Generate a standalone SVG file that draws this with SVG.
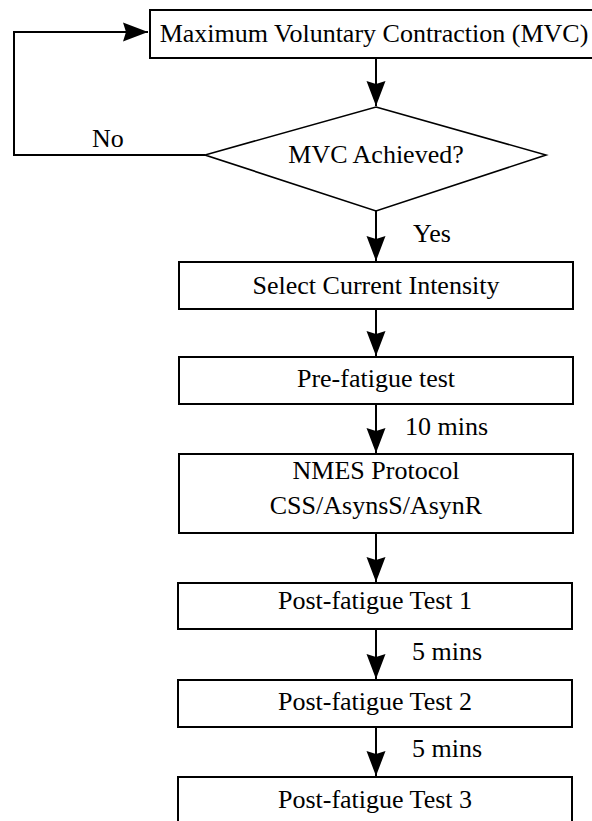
<svg xmlns="http://www.w3.org/2000/svg" width="592" height="821" viewBox="0 0 592 821">
  <style>
    .box { fill: #ffffff; stroke: #000000; stroke-width: 2; }
    .dia { fill: #ffffff; stroke: #000000; stroke-width: 1.6; }
    text { font-family: 'Liberation Serif', 'Times New Roman', Times, serif; font-size: 26px; fill: #000000; }
    .mid { text-anchor: middle; }
    .edge { fill: none; stroke: #000000; stroke-width: 2; }
  </style>
  <defs>
    <marker id="arrow" markerUnits="userSpaceOnUse" markerWidth="30" markerHeight="24" refX="25" refY="10" orient="auto">
      <path d="M0,0.5 L25,10 L0,19.5 L3,10 Z" fill="#000000"/>
    </marker>
  </defs>

  <rect width="592" height="821" fill="#ffffff"/>

  <!-- connectors -->
  <g id="connectors">
    <path class="edge" d="M205,155 L14,155 L14,32 L148,32" marker-end="url(#arrow)"/>
    <line class="edge" x1="376" y1="58" x2="376" y2="106" marker-end="url(#arrow)"/>
    <line class="edge" x1="376" y1="211" x2="376" y2="261" marker-end="url(#arrow)"/>
    <line class="edge" x1="376" y1="309" x2="376" y2="356" marker-end="url(#arrow)"/>
    <line class="edge" x1="376" y1="404" x2="376" y2="453" marker-end="url(#arrow)"/>
    <line class="edge" x1="376" y1="533" x2="376" y2="582" marker-end="url(#arrow)"/>
    <line class="edge" x1="376" y1="629" x2="376" y2="679" marker-end="url(#arrow)"/>
    <line class="edge" x1="376" y1="727" x2="376" y2="776" marker-end="url(#arrow)"/>
    <text x="92" y="147">No</text>
    <text x="413" y="242">Yes</text>
    <text x="405" y="435">10 mins</text>
    <text x="412" y="660">5 mins</text>
    <text x="412" y="757">5 mins</text>
  </g>

  <!-- nodes -->
  <g id="mvc">
    <rect class="box" x="150" y="10" width="450" height="48"/>
    <text class="mid" x="374" y="42">Maximum Voluntary Contraction (MVC)</text>
  </g>

  <g id="mvc-check">
    <polygon class="dia" points="376,107 546,155 376,211 205,155"/>
    <text class="mid" x="376" y="163">MVC Achieved?</text>
  </g>

  <g id="select-intensity">
    <rect class="box" x="179" y="262" width="394" height="47"/>
    <text class="mid" x="376" y="294">Select Current Intensity</text>
  </g>

  <g id="pre-fatigue">
    <rect class="box" x="179" y="357" width="394" height="47"/>
    <text class="mid" x="376" y="387">Pre-fatigue test</text>
  </g>

  <g id="nmes-protocol">
    <rect class="box" x="179" y="454" width="394" height="79"/>
    <text class="mid" x="376" y="479">NMES Protocol</text>
    <text class="mid" x="376" y="514">CSS/AsynsS/AsynR</text>
  </g>

  <g id="post-fatigue-1">
    <rect class="box" x="178" y="583" width="394" height="46"/>
    <text class="mid" x="375" y="609">Post-fatigue Test 1</text>
  </g>

  <g id="post-fatigue-2">
    <rect class="box" x="178" y="680" width="394" height="47"/>
    <text class="mid" x="375" y="710">Post-fatigue Test 2</text>
  </g>

  <g id="post-fatigue-3">
    <rect class="box" x="178" y="777" width="394" height="60"/>
    <text class="mid" x="375" y="808">Post-fatigue Test 3</text>
  </g>
</svg>
